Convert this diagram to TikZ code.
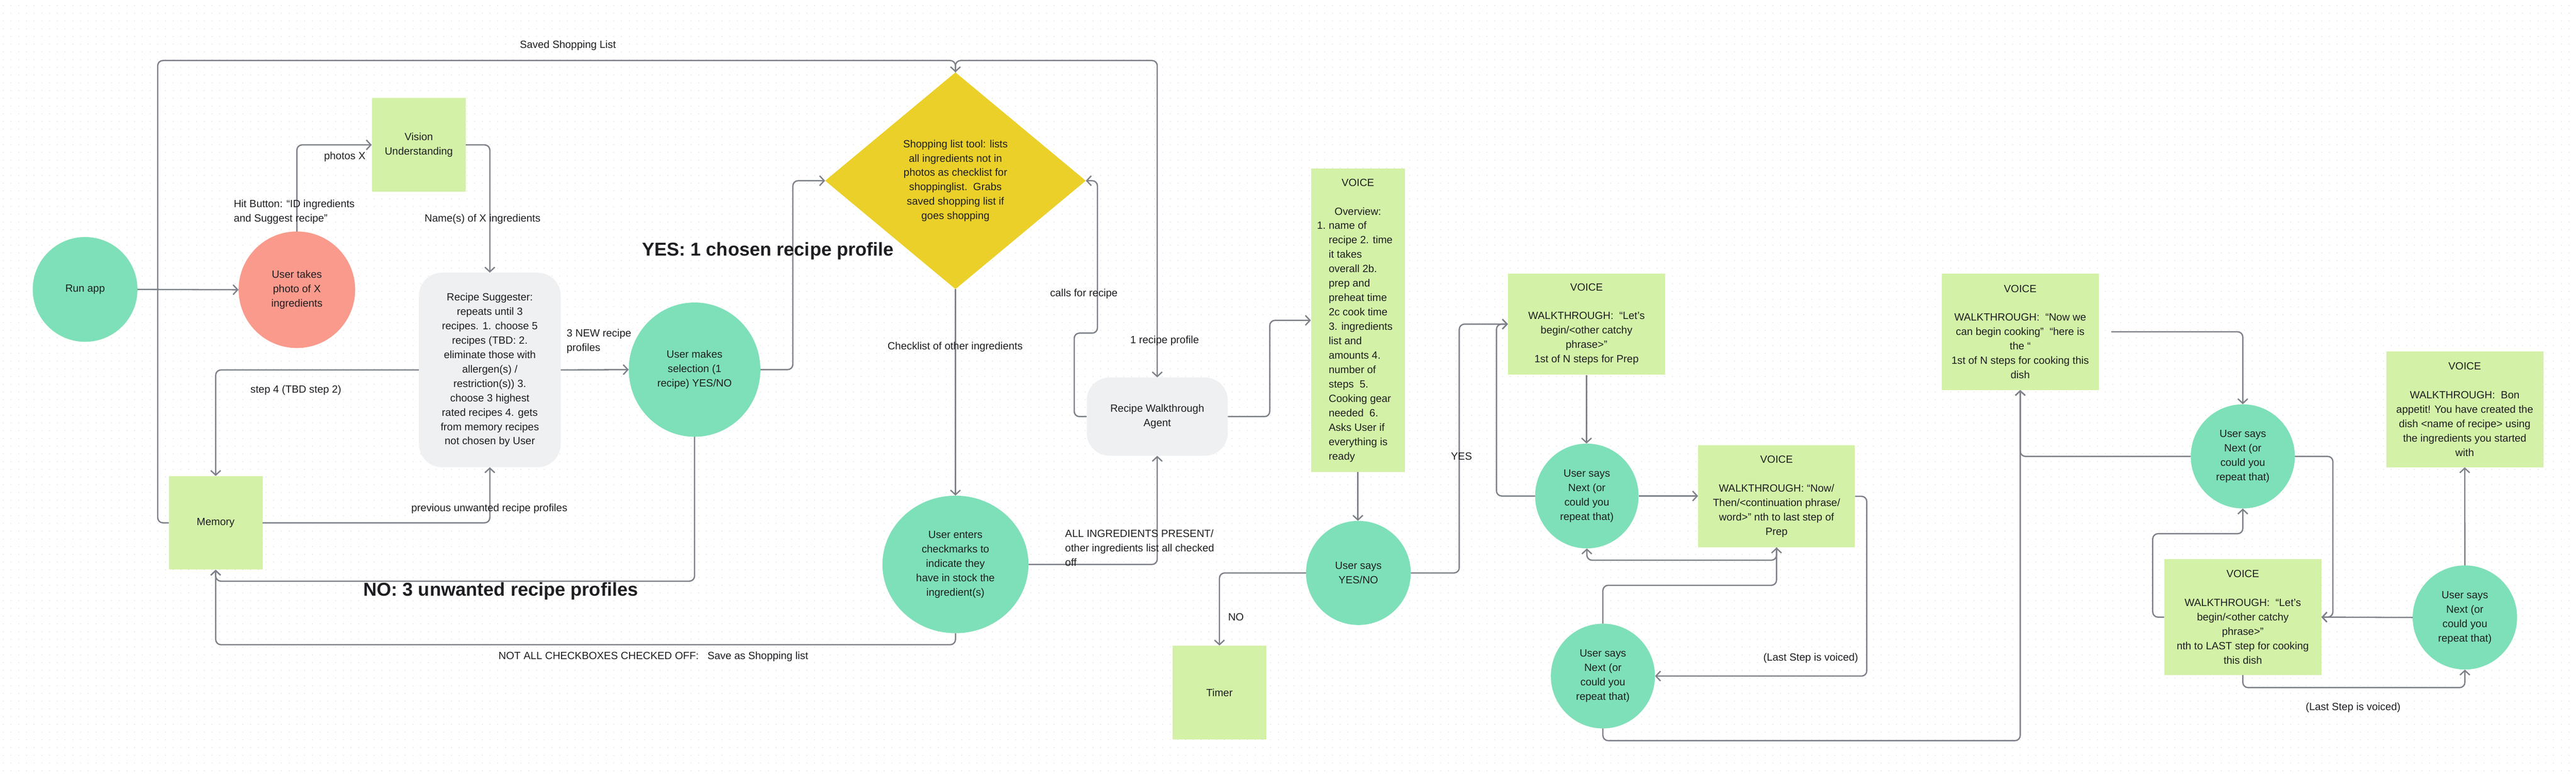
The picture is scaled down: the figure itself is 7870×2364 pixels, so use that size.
\documentclass[tikz,border=0pt]{standalone}
\usepackage{fontspec}
\setmainfont{Liberation Sans}
\usetikzlibrary{arrows.meta,shapes.geometric,patterns.meta,calc}

\definecolor{mint}{HTML}{7EE0B8}
\definecolor{salmon}{HTML}{F99A8C}
\definecolor{stickyc}{HTML}{D3F1A7}
\definecolor{greybox}{HTML}{EFF0F2}
\definecolor{yellowd}{HTML}{EBD02A}
\definecolor{linec}{HTML}{7D8088}
\definecolor{txt}{HTML}{1E1E22}

\tikzdeclarepattern{
  name=griddots,
  type=uncolored,
  bounding box={(0pt,0pt) and (24pt,24pt)},
  tile size={(24pt,24pt)},
  code={\pgfpathcircle{\pgfpoint{12pt}{12pt}}{1.6pt}\pgfusepath{fill}}
}

\begin{document}
\begin{tikzpicture}[x=1pt,y=-1pt,
  font=\fontsize{32}{44}\selectfont, text=txt,
  ell/.style={ellipse, inner sep=0pt, align=center},
  greenell/.style={ell, fill=mint},
  stickybox/.style={rectangle, fill=stickyc, inner sep=0pt, align=center},
  agentbox/.style={rectangle, rounded corners=70pt, fill=greybox, inner sep=0pt, align=center},
  conn/.style={draw=linec, line width=4pt, rounded corners=16pt, -{Straight Barb[length=14pt,width=30pt]}},
  lbl/.style={inner sep=0pt, align=left},
  big/.style={inner sep=0pt, font=\fontsize{57}{66}\selectfont\bfseries},
]
% background
\useasboundingbox (0,0) rectangle (7870,2364);
\fill[white] (0,0) rectangle (7870,2364);
\fill[pattern=griddots, pattern color=black!14] (0,0) rectangle (7870,2364);

% ---------- nodes ----------
\node[greenell, minimum width=320, minimum height=320] (runapp) at (260,884) {Run app};
\node[ell, fill=salmon, minimum width=356, minimum height=356] (photo) at (907,885) {User takes\\photo of X\\ingredients};
\node[stickybox, minimum width=287, minimum height=287] (vision) at (1279.5,442.5) {Vision\\Understanding};
\node[agentbox, minimum width=433, minimum height=594] (suggester) at (1496.5,1130) {Recipe Suggester:\\repeats until 3\\recipes. 1. choose 5\\recipes (TBD: 2.\\eliminate those with\\allergen(s) /\\restriction(s)) 3.\\choose 3 highest\\rated recipes 4. gets\\from memory recipes\\not chosen by User};
\node[greenell, minimum width=402, minimum height=410] (selection) at (2122,1129) {User makes\\selection (1\\recipe) YES/NO};
\node[stickybox, minimum width=286, minimum height=286] (memory) at (659,1597) {Memory};
\node[diamond, fill=yellowd, inner sep=0pt, minimum width=796, minimum height=662, align=center] (shoptool) at (2919,552) {Shopping list tool: lists\\all ingredients not in\\photos as checklist for\\shoppinglist.\ \ Grabs\\saved shopping list if\\goes shopping};
\node[agentbox, minimum width=431, minimum height=239] (agent) at (3535.5,1272.5) {Recipe Walkthrough\\Agent};
\node[greenell, minimum width=446, minimum height=420] (checks) at (2919,1724) {User enters\\checkmarks to\\indicate they\\have in stock the\\ingredient(s)};
\node[stickybox, minimum width=287, minimum height=927, align=left] (voice0) at (4148.5,978.5) {\makebox[250pt]{VOICE}\\[44pt]\makebox[250pt]{Overview:}\\\makebox[36pt][l]{1.}name of\\\hspace*{36pt}recipe 2. time\\\hspace*{36pt}it takes\\\hspace*{36pt}overall 2b.\\\hspace*{36pt}prep and\\\hspace*{36pt}preheat time\\\hspace*{36pt}2c cook time\\\hspace*{36pt}3. ingredients\\\hspace*{36pt}list and\\\hspace*{36pt}amounts 4.\\\hspace*{36pt}number of\\\hspace*{36pt}steps\ \ 5.\\\hspace*{36pt}Cooking gear\\\hspace*{36pt}needed\ \ 6.\\\hspace*{36pt}Asks User if\\\hspace*{36pt}everything is\\\hspace*{36pt}ready};
\node[greenell, minimum width=320, minimum height=318] (saysyn) at (4150,1750) {User says\\YES/NO};
\node[stickybox, minimum width=287, minimum height=287] (timer) at (3725.5,2115.5) {Timer};
\node[stickybox, minimum width=480, minimum height=310] (w1) at (4847,990) {VOICE\\[44pt]WALKTHROUGH:\ \ “Let’s\\begin/<other catchy\\phrase>”\\1st of N steps for Prep};
\node[greenell, minimum width=316, minimum height=320] (u1) at (4848,1515) {User says\\Next (or\\could you\\repeat that)};
\node[stickybox, minimum width=479, minimum height=312] (w2) at (5427.5,1516) {VOICE\\[44pt]WALKTHROUGH: “Now/\\Then/<continuation phrase/\\word>” nth to last step of\\Prep};
\node[greenell, minimum width=318, minimum height=320] (u2) at (4897,2065) {User says\\Next (or\\could you\\repeat that)};
\node[stickybox, minimum width=480, minimum height=355] (w3) at (6172,1013.5) {VOICE\\[44pt]WALKTHROUGH:\ \ “Now we\\can begin cooking”\ \ “here is\\the “\\1st of N steps for cooking this\\dish};
\node[greenell, minimum width=318, minimum height=318] (u3) at (6852,1394) {User says\\Next (or\\could you\\repeat that)};
\node[stickybox, minimum width=480, minimum height=354] (w4) at (6852,1885) {VOICE\\[44pt]WALKTHROUGH:\ \ “Let’s\\begin/<other catchy\\phrase>”\\nth to LAST step for cooking\\this dish};
\node[greenell, minimum width=319, minimum height=318] (u4) at (7530.5,1886) {User says\\Next (or\\could you\\repeat that)};
\node[stickybox, minimum width=480, minimum height=354] (w5) at (7530,1250) {VOICE\\[44pt]WALKTHROUGH:\ \ Bon\\appetit! You have created the\\dish <name of recipe> using\\the ingredients you started\\with};

% ---------- connectors ----------
\draw[conn] (runapp.east) -- (photo.west);
\draw[conn] (photo.north) |- (vision.west);
\draw[conn] (vision.east) -| (suggester.north);
\draw[conn] (suggester.east) -- (selection.west);
\draw[conn] (suggester.west) -| (memory.north);
\draw[conn] (memory.east) -| (suggester.south);
\draw[conn] (selection.east) -- ++(99,0) |- (shoptool.west);
\draw[conn] (selection.south) -- ++(0,441) -| (memory.south);
\draw[conn] (checks.south) -- ++(0,35) -| (memory.south);
\draw[conn] (memory.west) -- ++(-34,0) |- ($(shoptool.north)+(0,-36)$) -- (shoptool.north);
\draw[conn] (shoptool.north) -- ++(0,-36) -| (agent.north);
\draw[conn] (shoptool.south) -- (checks.north);
\draw[conn] (agent.west) -- ++(-38,0) -- ++(0,-255) -- ++(71,0) |- (shoptool.east);
\draw[conn] (checks.east) -| (agent.south);
\draw[conn] (agent.east) -- ++(128,0) |- (voice0.west);
\draw[conn] (voice0.south) -- (voice0.south |- saysyn.north);
\draw[conn] (saysyn.west) -| (timer.north);
\draw[conn] (saysyn.east) -- ++(148,0) |- (w1.west);
\draw[conn] (w1.south) -- (w1.south |- u1.north);
\draw[conn] (u1.west) -- ++(-118,0) |- (w1.west);
\draw[conn] (u1.east) -- (u1.east -| w2.west);
\draw[conn] (w2.south) -- ++(0,39) -| (u1.south);
\draw[conn] (u2.north) -- ++(0,-117) -| (w2.south);
\draw[conn] (w2.east) -- ++(36,0) |- (u2.east);
\draw[conn] (u2.south) -- ++(0,37) -| (w3.south);
\draw[conn] ([xshift=38pt]w3.east) -| (u3.north);
\draw[conn] (u3.west) -| (w3.south);
\draw[conn] (u3.east) -- ++(116,0) |- (w4.east);
\draw[conn] (w4.west) -- ++(-35,0) |- ($(u3.south)+(0,77)$) -- (u3.south);
\draw[conn] (u4.west) -- (w4.east);
\draw[conn] (w4.south) -- ++(0,38) -| (u4.south);
\draw[conn] (u4.north) -- (w5.south);

% ---------- labels ----------
\node[lbl, anchor=west] (lphotos) at (990,479) {photos X};
\node[lbl, anchor=west] (lhit) at (714,648) {Hit Button: “ID ingredients\\and Suggest recipe”};
\node[lbl, anchor=west] (lnames) at (1297,670) {Name(s) of X ingredients};
\node[lbl, anchor=west] (lsaved) at (1588,139) {Saved Shopping List};
\node[lbl, anchor=west] (l3new) at (1731,1042) {3 NEW recipe\\profiles};
\node[lbl, anchor=west] (lstep4) at (765,1192) {step 4 (TBD step 2)};
\node[lbl] (lprev) at (1495,1554) {previous unwanted recipe profiles};
\node[big, anchor=west] (lyes) at (1961,767) {YES: 1 chosen recipe profile};
\node[big, anchor=west] (lno) at (1110,1805) {NO: 3 unwanted recipe profiles};
\node[lbl, anchor=west] (lnotall) at (1523,2006) {NOT ALL CHECKBOXES CHECKED OFF:\ \ \ Save as Shopping list};
\node[lbl, anchor=west] (l1recipe) at (3453,1041) {1 recipe profile};
\node[lbl, anchor=west] (lcalls) at (3208,897) {calls for recipe};
\node[lbl] (lchecklist) at (2918,1060) {Checklist of other ingredients};
\node[lbl, anchor=west] (lallpresent) at (3254,1673) {ALL INGREDIENTS PRESENT/\\other ingredients list all checked\\off};
\node[lbl] (lno2) at (3776,1885) {NO};
\node[lbl] (lyes2) at (4465,1394) {YES};
\node[lbl] (llast1) at (5532,2011) {(Last Step is voiced)};
\node[lbl] (llast2) at (7189,2161) {(Last Step is voiced)};
\end{tikzpicture}
\end{document}
